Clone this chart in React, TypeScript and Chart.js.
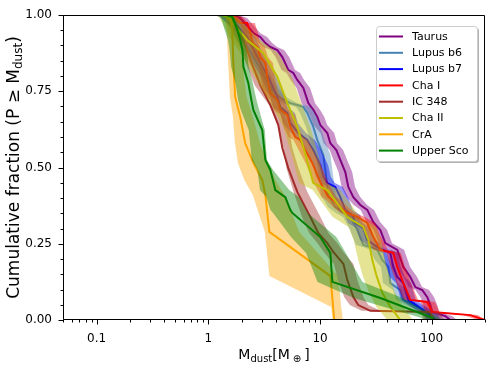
import { useEffect, useRef } from 'react';
import { Chart, registerables } from 'chart.js';
Chart.register(...registerables);

// ---------- data ----------
const X_MIN = 0.05;
const X_MAX = 300;
const xMajorTicks = [0.1, 1, 10, 100];
const xTickLabels = ['0.1', '1', '10', '100'];
const yMajorTicks = [0, 0.25, 0.5, 0.75, 1];
const yTickLabels = ['0.00', '0.25', '0.50', '0.75', '1.00'];

const seriesLabels = ['Taurus', 'Lupus b6', 'Lupus b7', 'Cha I', 'IC 348', 'Cha II', 'CrA', 'Upper Sco'];
const seriesColors = ['#800080', '#4682b4', '#0000ff', '#ff0000', '#a52a2a', '#bfbf00', '#ffa500', '#008000'];

const taurusF = [1, 1, 0.990, 0.961, 0.941, 0.928, 0.908, 0.895, 0.885, 0.862, 0.820, 0.810, 0.787, 0.761, 0.711, 0.689, 0.666, 0.639, 0.613, 0.580, 0.557, 0.525, 0.485, 0.436, 0.403, 0.377, 0.361, 0.321, 0.295, 0.252, 0.230, 0.174, 0.141, 0.108, 0.098, 0.075, 0.049, 0.026, 0.013, 0];
const taurusM = [0.05, 1.64, 1.93, 2.28, 2.53, 2.92, 3.24, 3.59, 4.15, 4.60, 5.20, 5.77, 6.26, 7.09, 7.86, 8.71, 9.46, 10.06, 11.62, 12.36, 14.0, 15.19, 16.84, 17.92, 19.87, 22.95, 26.5, 30.0, 34.66, 38.42, 49.2, 55.7, 64.33, 71.32, 82.4, 91.3, 97.2, 101.2, 132.4, 146.8];
const taurusLo = [0.05, 1.43, 1.68, 1.98, 2.20, 2.54, 2.82, 3.12, 3.61, 4.0, 4.52, 5.02, 5.45, 6.17, 6.84, 7.58, 8.23, 8.75, 10.1, 10.75, 12.2, 13.2, 14.65, 15.6, 17.3, 20.0, 23.1, 26.1, 30.2, 33.4, 42.8, 48.5, 56.0, 62.0, 71.7, 79.4, 84.6, 88.0, 115, 128];
const taurusHi = [0.05, 1.89, 2.22, 2.62, 2.91, 3.36, 3.73, 4.13, 4.77, 5.29, 5.98, 6.64, 7.2, 8.15, 9.04, 10.0, 10.9, 11.6, 13.4, 14.2, 16.1, 17.5, 19.4, 20.6, 22.9, 26.4, 30.5, 34.5, 39.9, 44.2, 56.6, 64.1, 74.0, 82.0, 94.8, 105, 112, 116, 152, 169];

const lupusB6F = [1, 1, 0.977, 0.925, 0.879, 0.836, 0.793, 0.754, 0.728, 0.711, 0.705, 0.698, 0.679, 0.633, 0.590, 0.541, 0.492, 0.410, 0.370, 0.351, 0.338, 0.295, 0.246, 0.239, 0.230, 0.197, 0.174, 0.121, 0.098, 0.066, 0.023, 0];
const lupusB6M = [0.05, 1.42, 1.67, 2.02, 2.38, 2.80, 3.24, 3.74, 4.41, 5.42, 6.26, 7.09, 7.70, 8.71, 9.46, 10.7, 11.15, 11.86, 13.71, 16.2, 18.67, 21.6, 24.4, 28.2, 32.6, 36.1, 40.9, 42.59, 52.35, 55.7, 97.2, 103];
const lupusB6Lo = [0.05, 1.22, 1.44, 1.74, 2.05, 2.41, 2.79, 3.22, 3.79, 4.66, 5.38, 6.10, 6.62, 7.49, 8.14, 9.20, 9.59, 10.2, 11.8, 13.9, 16.1, 18.6, 21.0, 24.3, 28.0, 31.0, 35.2, 36.6, 45.0, 47.9, 83.6, 88.6];
const lupusB6Hi = [0.05, 1.65, 1.94, 2.34, 2.76, 3.25, 3.76, 4.34, 5.12, 6.29, 7.26, 8.22, 8.93, 10.1, 11.0, 12.4, 12.9, 13.8, 15.9, 18.8, 21.7, 25.1, 28.3, 32.7, 37.8, 41.9, 47.4, 49.4, 60.7, 64.6, 113, 119];

const lupusB7F = [1, 1, 0.993, 0.961, 0.928, 0.895, 0.862, 0.830, 0.797, 0.731, 0.698, 0.679, 0.646, 0.613, 0.590, 0.557, 0.508, 0.469, 0.449, 0.436, 0.403, 0.361, 0.344, 0.318, 0.302, 0.262, 0.239, 0.220, 0.174, 0.141, 0.121, 0.066, 0.016, 0];
const lupusB7M = [0.05, 1.33, 1.48, 1.86, 2.23, 2.48, 2.75, 3.04, 3.45, 4.15, 4.41, 5.10, 5.42, 6.40, 7.70, 8.71, 10.06, 10.7, 11.62, 13.71, 15.19, 16.84, 19.45, 20.70, 24.4, 26.5, 32.6, 42.59, 45.3, 49.2, 55.7, 61.7, 97.2, 107.7];
const lupusB7Lo = [0.05, 1.14, 1.27, 1.60, 1.92, 2.13, 2.37, 2.61, 2.97, 3.57, 3.79, 4.39, 4.66, 5.50, 6.62, 7.49, 8.65, 9.2, 10.0, 11.8, 13.1, 14.5, 16.7, 17.8, 21.0, 22.8, 28.0, 36.6, 39.0, 42.3, 47.9, 53.1, 83.6, 92.6];
const lupusB7Hi = [0.05, 1.56, 1.73, 2.18, 2.61, 2.90, 3.22, 3.56, 4.04, 4.86, 5.16, 5.97, 6.34, 7.49, 9.01, 10.2, 11.8, 12.5, 13.6, 16.0, 17.8, 19.7, 22.8, 24.2, 28.5, 31.0, 38.1, 49.8, 53.0, 57.6, 65.2, 72.2, 114, 126];

const chaIF = [1, 1, 0.993, 0.974, 0.974, 0.941, 0.908, 0.895, 0.862, 0.843, 0.797, 0.744, 0.721, 0.689, 0.672, 0.633, 0.600, 0.590, 0.557, 0.515, 0.452, 0.403, 0.393, 0.370, 0.351, 0.338, 0.318, 0.279, 0.230, 0.220, 0.174, 0.121, 0.066, 0.059, 0.026, 0.016, 0];
const chaIM = [0.05, 1.42, 1.74, 1.93, 2.23, 2.38, 2.48, 2.75, 2.92, 3.24, 3.37, 3.59, 4.15, 4.41, 5.10, 5.42, 6.01, 6.66, 7.39, 8.53, 10.06, 11.86, 13.16, 15.19, 17.55, 21.6, 26.5, 29.4, 34.66, 45.3, 49.2, 55.7, 64.33, 91.3, 101.2, 221.7, 300];
const chaILo = [0.05, 1.24, 1.51, 1.68, 1.94, 2.07, 2.16, 2.39, 2.54, 2.82, 2.93, 3.12, 3.61, 3.84, 4.44, 4.72, 5.23, 5.79, 6.43, 7.42, 8.75, 10.3, 11.4, 13.2, 15.3, 18.8, 23.1, 25.6, 30.2, 39.4, 42.8, 48.5, 56.0, 79.4, 88.0, 190, 260];
const chaIHi = [0.05, 1.66, 2.04, 2.26, 2.61, 2.78, 2.90, 3.22, 3.42, 3.79, 3.94, 4.20, 4.86, 5.16, 5.97, 6.34, 7.03, 7.79, 8.65, 9.98, 11.8, 13.9, 15.4, 17.8, 20.5, 25.3, 31.0, 34.4, 40.6, 53.0, 57.6, 65.2, 75.3, 107, 118, 259, 300];

const ic348F = [1, 1, 0.951, 0.902, 0.836, 0.770, 0.705, 0.639, 0.564, 0.498, 0.420, 0.338, 0.285, 0.252, 0.223, 0.184, 0.131, 0.075, 0.049, 0.030, 0.026, 0];
const ic348M = [0.05, 1.57, 1.86, 2.14, 2.48, 2.92, 3.59, 4.23, 4.60, 5.20, 6.26, 8.19, 9.66, 11.62, 13.16, 16.2, 17.55, 19.9, 22.0, 28.2, 97.2, 103];
const ic348Lo = [0.05, 1.40, 1.62, 1.90, 2.20, 2.60, 3.5, 4.2, 4.7, 5.0, 5.8, 6.9, 8.0, 9.5, 10.8, 13.3, 14.5, 16.5, 18.5, 23.5, 80, 85];
const ic348Hi = [0.05, 1.93, 2.29, 2.63, 3.05, 3.59, 4.42, 5.21, 5.66, 6.40, 7.70, 10.1, 11.9, 14.3, 16.2, 19.9, 21.6, 24.5, 27.1, 34.7, 120, 127];

const chaIIF = [1, 1, 0.993, 0.918, 0.875, 0.797, 0.711, 0.633, 0.567, 0.508, 0.449, 0.426, 0.338, 0.305, 0.262, 0.197, 0.148, 0.089, 0.043, 0];
const chaIIM = [0.05, 1.33, 1.48, 2.23, 3.11, 4.15, 5.10, 6.26, 7.09, 7.86, 8.71, 11.62, 17.55, 24.4, 27.1, 29.4, 31.9, 36.1, 42.59, 52.35];
const chaIILo = [0.05, 1.15, 1.25, 1.60, 1.95, 2.6, 3.6, 4.7, 5.3, 5.9, 6.5, 8.6, 13, 18, 20, 22, 24, 27.5, 32, 40];
const chaIIHi = [0.05, 1.6, 1.8, 2.9, 4.2, 5.6, 6.8, 8.2, 9.2, 10.2, 11.4, 15.2, 22.8, 31.7, 35.2, 38.2, 41.5, 46.9, 55.4, 68.1];

const craF = [1, 1, 0.993, 0.951, 0.852, 0.731, 0.666, 0.580, 0.515, 0.459, 0.410, 0.289, 0.144, 0.043, 0];
const craM = [0.05, 1.51, 1.57, 1.64, 1.67, 1.74, 1.93, 2.14, 2.53, 3.04, 3.24, 3.52, 12.4, 13.1, 13.4];
const craLo = [0.05, 1.38, 1.43, 1.46, 1.50, 1.56, 1.66, 1.73, 1.84, 2.10, 2.50, 3.20, 3.52, 12.6, 13.0];
const craHi = [0.05, 1.60, 1.68, 1.85, 2.00, 2.20, 2.50, 2.90, 3.40, 4.00, 4.80, 6.50, 14.5, 15.5, 16.0];

const upperScoF = [1, 1, 0.993, 0.951, 0.918, 0.885, 0.830, 0.777, 0.721, 0.689, 0.623, 0.525, 0.492, 0.426, 0.403, 0.361, 0.351, 0.272, 0.220, 0.125, 0.072, 0.007, 0];
const upperScoM = [0.05, 1.45, 1.64, 1.82, 1.93, 2.02, 2.06, 2.28, 2.43, 2.53, 3.04, 3.24, 3.59, 3.98, 4.89, 5.42, 5.65, 10.06, 12.36, 12.9, 34.66, 101.2, 103];
const upperScoLo = [0.05, 1.18, 1.30, 1.40, 1.50, 1.55, 1.60, 1.75, 1.85, 1.95, 2.30, 2.45, 2.75, 2.90, 3.30, 3.60, 3.80, 5.5, 7.5, 9.5, 20.0, 80.0, 85.0];
const upperScoHi = [0.05, 1.65, 1.72, 1.95, 2.10, 2.20, 2.30, 2.50, 2.70, 2.85, 3.20, 3.35, 3.80, 5.30, 6.50, 7.50, 7.80, 14.0, 17.0, 24.0, 55.0, 115, 120];

const seriesF = [taurusF, lupusB6F, lupusB7F, chaIF, ic348F, chaIIF, craF, upperScoF];
const seriesM = [taurusM, lupusB6M, lupusB7M, chaIM, ic348M, chaIIM, craM, upperScoM];
const seriesLo = [taurusLo, lupusB6Lo, lupusB7Lo, chaILo, ic348Lo, chaIILo, craLo, upperScoLo];
const seriesHi = [taurusHi, lupusB6Hi, lupusB7Hi, chaIHi, ic348Hi, chaIIHi, craHi, upperScoHi];

// ---------- helpers ----------
const FONT = '"DejaVu Sans", sans-serif';

function rgba(hex: string, a: number) {
  const n = parseInt(hex.slice(1), 16);
  return `rgba(${(n >> 16) & 255},${(n >> 8) & 255},${n & 255},${a})`;
}

type Piece = { t: string; s: number; dy: number; pl?: number; pr?: number };

function richWidth(ctx: CanvasRenderingContext2D, pieces: Piece[]) {
  let w = 0;
  for (const p of pieces) {
    ctx.font = `${p.s}px ${FONT}`;
    w += (p.pl || 0) + ctx.measureText(p.t).width + (p.pr || 0);
  }
  return w;
}

function drawRich(ctx: CanvasRenderingContext2D, pieces: Piece[], cx: number, baseline: number) {
  const w = richWidth(ctx, pieces);
  let x = cx - w / 2;
  ctx.textAlign = 'left';
  ctx.textBaseline = 'alphabetic';
  ctx.fillStyle = '#000';
  for (const p of pieces) {
    ctx.font = `${p.s}px ${FONT}`;
    x += p.pl || 0;
    ctx.fillText(p.t, x, baseline + p.dy);
    x += ctx.measureText(p.t).width + (p.pr || 0);
  }
}

const framePlugin = {
  id: 'frame',
  afterDatasetsDraw(chart: any) {
    const { ctx, chartArea: a } = chart;
    const xs = chart.scales.x;
    const ys = chart.scales.y;
    ctx.save();
    ctx.strokeStyle = '#000';
    ctx.lineWidth = 1;
    ctx.beginPath();
    ctx.rect(Math.round(a.left) + 0.5, Math.round(a.top) + 0.5, Math.round(a.right - a.left) - 1, Math.round(a.bottom - a.top) - 1);
    ctx.stroke();
    const bottom = Math.round(a.bottom) - 0.5;
    const left = Math.round(a.left) + 0.5;
    const minors: number[] = [];
    for (let e = -2; e <= 2; e++) {
      for (let k = 2; k <= 9; k++) {
        const v = k * Math.pow(10, e);
        if (v >= X_MIN - 1e-9 && v <= X_MAX + 1e-9) minors.push(v);
      }
    }
    ctx.beginPath();
    for (const v of minors) {
      const px = Math.round(xs.getPixelForValue(v)) + 0.5;
      ctx.moveTo(px, bottom);
      ctx.lineTo(px, bottom + 3);
    }
    for (const v of xMajorTicks) {
      const px = Math.round(xs.getPixelForValue(v)) + 0.5;
      ctx.moveTo(px, bottom);
      ctx.lineTo(px, bottom + 5);
    }
    for (let i = 0; i <= 20; i++) {
      const v = i * 0.05;
      const py = Math.round(ys.getPixelForValue(v)) + 0.5;
      const len = i % 5 === 0 ? 5 : 3;
      ctx.moveTo(left, py);
      ctx.lineTo(left - len, py);
    }
    ctx.stroke();

    drawRich(ctx, [
      { t: 'M', s: 14, dy: 0 },
      { t: 'dust', s: 10, dy: 3 },
      { t: '[M', s: 14, dy: 0 },
      { t: '\u2295', s: 10, dy: 3, pl: 3, pr: 3 },
      { t: ']', s: 14, dy: 0 },
    ], (a.left + a.right) / 2, 359);

    ctx.save();
    ctx.translate(19, (a.top + a.bottom) / 2);
    ctx.rotate(-Math.PI / 2);
    drawRich(ctx, [
      { t: 'Cumulative fraction (P \u2265 M', s: 17, dy: 0 },
      { t: 'dust', s: 12, dy: 3 },
      { t: ')', s: 17, dy: 0 },
    ], 0, 0);
    ctx.restore();
    ctx.restore();
  },
};

const legendPlugin = {
  id: 'customLegend',
  afterDraw(chart: any) {
    const { ctx } = chart;
    const lx = 376, ly = 26, lw = 101, lh = 135;
    ctx.save();
    ctx.fillStyle = 'rgba(0,0,0,0.3)';
    ctx.beginPath();
    ctx.roundRect(lx + 2, ly + 2, lw, lh, 3);
    ctx.fill();
    ctx.fillStyle = '#ffffff';
    ctx.beginPath();
    ctx.roundRect(lx + 0.5, ly + 0.5, lw, lh, 3);
    ctx.fill();
    ctx.strokeStyle = '#cccccc';
    ctx.lineWidth = 1;
    ctx.stroke();
    ctx.font = `11px ${FONT}`;
    ctx.textAlign = 'left';
    ctx.textBaseline = 'middle';
    seriesLabels.forEach((lab, i) => {
      const y = 36.5 + i * 16.3;
      ctx.strokeStyle = seriesColors[i];
      ctx.lineWidth = 2;
      ctx.beginPath();
      ctx.moveTo(379, y);
      ctx.lineTo(403, y);
      ctx.stroke();
      ctx.fillStyle = '#000';
      ctx.fillText(lab, 412, y + 0.5);
    });
    ctx.restore();
  },
};

export default function App() {
  const ref = useRef<HTMLCanvasElement>(null);
  useEffect(() => {
    document.body.style.margin = '0';
    const canvas = ref.current;
    if (!canvas) return;
    const datasets: any[] = [];
    let order = 1000;
    seriesLabels.forEach((label, i) => {
      const f = seriesF[i];
      const color = seriesColors[i];
      datasets.push({
        label: label + ' lo',
        data: [...seriesLo[i].map((x, j) => ({ x, y: f[j] })), { x: X_MAX, y: 0 }],
        borderColor: 'rgba(0,0,0,0)',
        borderWidth: 1,
        pointRadius: 0,
        fill: false,
        order: order--,
      });
      datasets.push({
        label: label + ' hi',
        data: [...seriesHi[i].map((x, j) => ({ x, y: f[j] })), { x: X_MAX, y: 0 }],
        borderColor: 'rgba(0,0,0,0)',
        borderWidth: 1,
        pointRadius: 0,
        fill: '-1',
        backgroundColor: rgba(color, 0.42),
        order: order--,
      });
      datasets.push({
        label,
        data: seriesM[i].map((x, j) => ({ x, y: f[j] })),
        borderColor: color,
        borderWidth: 2,
        pointRadius: 0,
        fill: false,
        order: order--,
      });
    });

    const chart = new Chart(canvas, {
      type: 'line',
      data: { datasets },
      options: {
        responsive: false,
        animation: false,
        events: [],
        layout: { padding: { left: 0, right: 6, top: 15, bottom: 0 } },
        plugins: { legend: { display: false }, tooltip: { enabled: false } },
        scales: {
          x: {
            type: 'logarithmic',
            min: X_MIN,
            max: X_MAX,
            afterBuildTicks: (axis: any) => {
              axis.ticks = xMajorTicks.map((v) => ({ value: v }));
            },
            afterFit: (s: any) => { s.height = 48; s.paddingLeft = 0; s.paddingRight = 0; },
            grid: { display: false, drawTicks: false },
            border: { display: false },
            ticks: {
              autoSkip: false,
              maxRotation: 0,
              padding: 12,
              color: '#000',
              font: { family: FONT, size: 12 },
              callback: (_v: any, i: number) => xTickLabels[i],
            },
          },
          y: {
            type: 'linear',
            min: 0,
            max: 1,
            afterBuildTicks: (axis: any) => {
              axis.ticks = yMajorTicks.map((v) => ({ value: v }));
            },
            afterFit: (s: any) => { s.width = 63; s.paddingTop = 0; s.paddingBottom = 0; },
            grid: { display: false, drawTicks: false },
            border: { display: false },
            ticks: {
              padding: 11,
              color: '#000',
              font: { family: FONT, size: 12 },
              callback: (_v: any, i: number) => yTickLabels[i],
            },
          },
        },
      },
      plugins: [framePlugin, legendPlugin],
    });
    return () => chart.destroy();
  }, []);
  return (
    <div style={{ position: 'absolute', left: 0, top: 0, width: 491, height: 368 }}>
      <canvas ref={ref} width={491} height={368} style={{ width: 491, height: 368 }} />
    </div>
  );
}
